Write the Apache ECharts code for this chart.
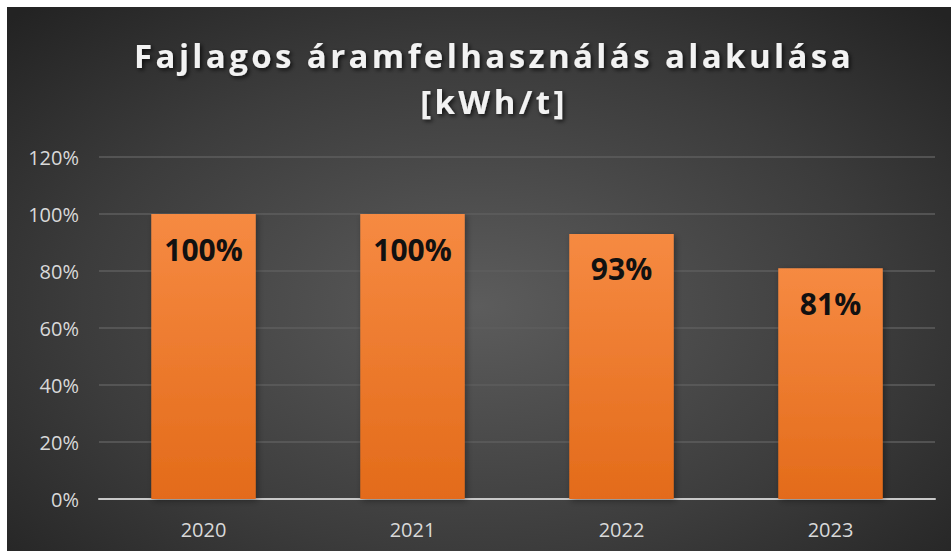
<!DOCTYPE html>
<html>
<head>
<meta charset="utf-8">
<script src="https://cdn.jsdelivr.net/npm/echarts@6/dist/echarts.min.js"></script>
<style>
html,body{margin:0;padding:0;background:#fff;}
#main{position:absolute;left:7px;top:7px;width:944px;height:544px;
  background:radial-gradient(ellipse 70% 75% at 50% 55%, #5c5c5c 0%, #3c3c3c 60%, #232323 100%);}
/* a cím betűköze */
#main text[style*="33px"]{letter-spacing:3.4px;}
</style>
</head>
<body>
<div id="main"></div>
<script>
// adatok
var evek = ['2020', '2021', '2022', '2023'];
var ertekek = [100, 100, 93, 81];
var cim = 'Fajlagos áramfelhasználás alakulása\n[kWh/t]';

var myChart = echarts.init(document.getElementById('main'), null, {renderer: 'svg'});

var option = {
    backgroundColor: 'transparent',
    title: {
        text: cim,
        left: 482,
        textAlign: 'center',
        top: 20,
        padding: 5,
        textStyle: {
            fontFamily: 'Open Sans',
            fontWeight: 'bold',
            fontSize: 33,
            lineHeight: 46,
            color: '#f2f2f2',
            textShadowColor: 'rgba(0,0,0,0.7)',
            textShadowBlur: 4,
            textShadowOffsetX: 2,
            textShadowOffsetY: 2
        }
    },
    grid: {left: 92, right: 16, top: 150, bottom: 52},
    xAxis: {
        type: 'category',
        data: evek,
        axisTick: {show: false},
        axisLine: {lineStyle: {color: '#c8c8c8', width: 2}},
        axisLabel: {color: '#d9d9d9', fontSize: 20, margin: 20, fontFamily: 'Open Sans'}
    },
    yAxis: {
        type: 'value',
        min: 0, max: 120, interval: 20,
        axisLabel: {formatter: '{value}%', color: '#d9d9d9', fontSize: 20, margin: 20, fontFamily: 'Open Sans'},
        splitLine: {lineStyle: {color: '#5e5e5e', width: 1.5}}
    },
    series: [{
        type: 'bar',
        data: ertekek,
        barWidth: '50%',
        itemStyle: {
            color: {
                type: 'linear', x: 0, y: 0, x2: 0, y2: 1,
                colorStops: [
                    {offset: 0, color: '#f68a42'},
                    {offset: 1, color: '#e36b1a'}
                ]
            },
            shadowColor: 'rgba(0,0,0,0.35)',
            shadowBlur: 6,
            shadowOffsetX: 2,
            shadowOffsetY: 2
        },
        label: {
            show: true,
            position: 'insideTop',
            distance: 20,
            formatter: '{c}%',
            color: '#111',
            fontWeight: 'bold',
            fontSize: 30,
            fontFamily: 'Open Sans'
        }
    }]
};
myChart.setOption(option);
</script>
</body>
</html>
